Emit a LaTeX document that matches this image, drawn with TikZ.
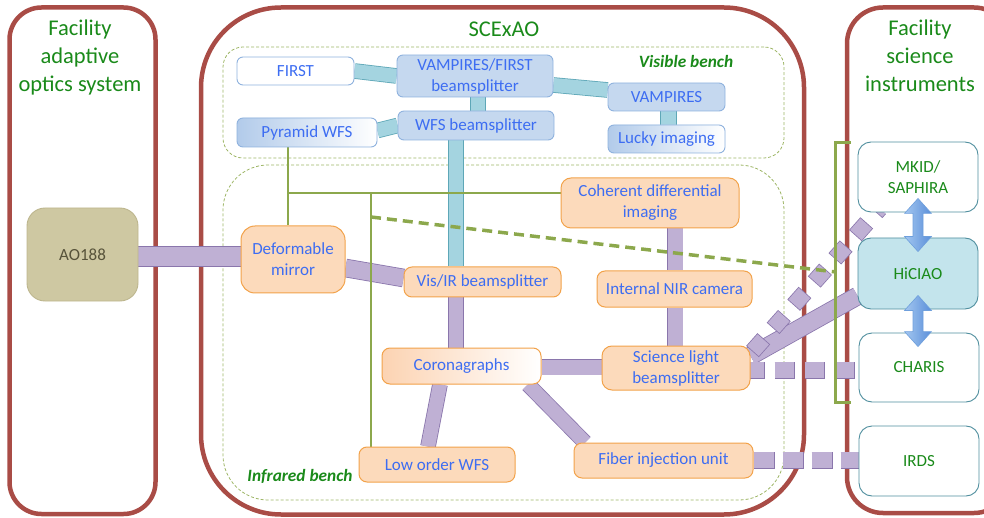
\documentclass[tikz,border=0pt]{standalone}
\usepackage{fontspec}
\setmainfont{Carlito}
\usetikzlibrary{calc}
\pgfdeclarelayer{frame}
\pgfdeclarelayer{bands}
\pgfdeclarelayer{wires}
\pgfdeclarelayer{top}
\pgfsetlayers{frame,bands,wires,main,top}
\definecolor{frameC}{HTML}{A94C46}
\definecolor{benchC}{HTML}{9DB565}
\definecolor{titleG}{HTML}{1A8A1A}
\definecolor{tblue}{HTML}{3D6DF2}
\definecolor{vfill}{HTML}{C5D8EF}
\definecolor{vgrad}{HTML}{B2CBEA}
\definecolor{vborder}{HTML}{8FB2DE}
\definecolor{ofill}{HTML}{FCDABB}
\definecolor{ograd}{HTML}{FCD3B2}
\definecolor{oborder}{HTML}{F2A24A}
\definecolor{pfill}{HTML}{BFB0D4}
\definecolor{pborder}{HTML}{8A76AC}
\definecolor{bfill}{HTML}{A4D4E0}
\definecolor{bborder}{HTML}{5EA7B7}
\definecolor{gline}{HTML}{8CA84C}
\definecolor{iborder}{HTML}{4F8E9E}
\definecolor{hfill}{HTML}{C3E4EC}
\definecolor{aofill}{HTML}{CEC8A2}
\definecolor{aoborder}{HTML}{BDB68E}
\definecolor{aotext}{HTML}{57533A}
\definecolor{arrowL}{HTML}{A3C6F0}
\definecolor{arrowR}{HTML}{5A8FD9}
\definecolor{arrowB}{HTML}{6E9FDC}
\tikzset{
  lab/.style={font=\fontsize{17}{21}\selectfont, align=center, inner sep=0pt},
  wh/.style 2 args={minimum width=#1pt, minimum height=#2pt},
  vbox/.style={lab, draw=vborder, fill=vfill, line width=0.9pt, rounded corners=6pt, text=tblue},
  obox/.style={lab, draw=oborder, fill=ofill, line width=1pt, rounded corners=8pt, text=tblue},
  ibox/.style={lab, draw=iborder, fill=white, line width=0.9pt, rounded corners=13pt, text=titleG},
  frame/.style={draw=frameC, line width=4.5pt, rounded corners=#1, inner sep=0pt},
  bench/.style={draw=benchC, line width=0.8pt, dash pattern=on 3pt off 2pt, rounded corners=#1, inner sep=0pt},
  title/.style={font=\fontsize{22.5}{28}\selectfont, text=titleG, align=center, inner sep=0pt},
  benchlab/.style={font=\fontsize{17.3}{20}\selectfont\bfseries\itshape, text=titleG, inner sep=0pt},
  pband/.style={draw=pborder, line width=0.8pt, double=pfill, double distance=#1},
  bband/.style={draw=bborder, line width=0.8pt, double=bfill, double distance=#1},
  gwire/.style={draw=gline, line width=2.5pt},
  fatarrowstyle/.style={left color=arrowL, right color=arrowR, draw=arrowB, line width=0.6pt},
}
\newcommand\fatarrow[2]{\path[fatarrowstyle] let \p1=(#1), \p2=(#2) in
  (\x1,\y1) -- (\x1+13.5pt,\y1-15pt) -- (\x1+5pt,\y1-15pt) -- (\x1+5pt,\y2+15pt)
  -- (\x1+13.5pt,\y2+15pt) -- (\x1,\y2) -- (\x1-13.5pt,\y2+15pt) -- (\x1-5pt,\y2+15pt)
  -- (\x1-5pt,\y1-15pt) -- (\x1-13.5pt,\y1-15pt) -- cycle;}
\begin{document}
\begin{tikzpicture}[x=1pt,y=-1pt]
\useasboundingbox (0,0) rectangle (984,518);
% ---------- frames ----------
\begin{pgfonlayer}{frame}
\node[frame=32pt, wh={146}{506.5}] (fao) at (82.5,260.75) {};
\node[frame=80pt, wh={603}{507}] (fsc) at (502.5,261) {};
\node[frame=36pt, wh={163}{505.5}] (fsi) at (928.5,260.25) {};
\node[bench=20pt, wh={561}{111}] (vbench) at (503.5,102.5) {};
\node[bench=45pt, wh={561}{335}] (ibench) at (503.5,332.5) {};
\end{pgfonlayer}
% ---------- titles ----------
\node[title, anchor=base] (t1) at (80,92) {Facility\\adaptive\\optics system};
\node[title, anchor=base] (t2) at (504,37) {SCExAO};
\node[title, anchor=base] (t3) at (920,92) {Facility\\science\\instruments};
\node[benchlab] (vbl) at (686,61) {Visible bench};
\node[benchlab] (ibl) at (300,476) {Infrared bench};
% ---------- visible bench ----------
\node[vbox, fill=white, wh={117}{28}] (first) at (295.5,71) {FIRST};
\node[vbox, wh={156}{42}] (vfbs) at (475,76) {VAMPIRES/FIRST\\beamsplitter};
\node[vbox, wh={117}{28}] (vamp) at (666.5,97) {VAMPIRES};
\node[vbox, left color=vgrad, right color=white, wh={117}{28}] (lucky) at (666.5,139) {Lucky imaging};
\node[vbox, left color=vgrad, right color=white, wh={140}{29}] (pyr) at (307,132.5) {Pyramid WFS};
\node[vbox, wh={156}{29}] (wfsbs) at (476,125.5) {WFS beamsplitter};
% ---------- infrared bench ----------
\node[obox, rounded corners=14pt, wh={104}{67}] (dm) at (293,259.5) {Deformable\\mirror};
\node[obox, wh={157}{30}] (visir) at (482.5,282) {Vis/IR beamsplitter};
\node[obox, rounded corners=10pt, wh={178}{50}] (cdi) at (650,203) {Coherent differential\\imaging};
\node[obox, wh={155}{36}] (nir) at (674.5,289) {Internal NIR camera};
\node[obox, rounded corners=10pt, wh={148}{44}] (slb) at (676,368) {Science light\\beamsplitter};
\node[obox, left color=ograd, right color=white, wh={159}{36}] (corona) at (461.5,366) {Coronagraphs};
\node[obox, wh={156}{35}] (lowfs) at (437,464.5) {Low order WFS};
\node[obox, wh={179}{35}] (fiu) at (663.5,460.5) {Fiber injection unit};
% ---------- AO188 ----------
\node[lab, draw=aoborder, fill=aofill, text=aotext, line width=0.9pt, rounded corners=18pt, wh={111}{93}] (ao) at (82.5,254.5) {AO188};
% ---------- instruments ----------
\node[ibox, wh={120}{70}] (mkid) at (918,177) {MKID/\\SAPHIRA};
\node[ibox, fill=hfill, wh={120}{71}] (hiciao) at (918,273.5) {HiCIAO};
\node[ibox, wh={120}{69}] (charis) at (919,367.5) {CHARIS};
\node[ibox, wh={120}{70}] (irds) at (919,461) {IRDS};
% ---------- bands ----------
\begin{pgfonlayer}{bands}
\draw[bband=14pt] (first.east) -- (vfbs.west);
\draw[bband=14pt] ($(vfbs.east)+(0,9)$) -- ($(vamp.west)+(0,-7)$);
\draw[bband=15pt] ($(vamp.south)+(2,0)$) -- ($(lucky.north)+(2,0)$);
\draw[bband=14pt] ($(vfbs.south)+(3,0)$) -- ($(wfsbs.north)+(2,0)$);
\draw[bband=14pt] ($(pyr.east)+(0,-2)$) -- (wfsbs.west);
\draw[bband=14pt] ($(wfsbs.south)+(-20,0)$) -- ($(visir.north)+(-26.5,0)$);
\draw[pband=19pt] ($(ao.east)+(0,2)$) -- ($(dm.west)+(0,-3)$);
\draw[pband=17pt] ($(dm.east)+(0,8.5)$) -- ($(visir.west)+(0,-4)$);
\draw[pband=14pt] ($(visir.south)+(-26.5,0)$) -- ($(corona.north)+(-5.5,0)$);
\draw[pband=15pt] ($(corona.east)+(0,1)$) -- ($(slb.west)+(0,-1)$);
\draw[pband=14pt] ($(corona.south)+(-21.5,0)$) -- ($(lowfs.north)+(-9,0)$);
\draw[pband=14pt] ($(corona.south)+(66.5,0)$) -- ($(fiu.north)+(-78.5,0)$);
\draw[pband=15pt] ($(cdi.south)+(25,0)$) -- ($(nir.north)+(0.5,0)$);
\draw[pband=15pt] ($(nir.south)+(0.5,0)$) -- ($(slb.north)+(-1,0)$);
\draw[pband=17pt] ($(slb.east)+(0,-12)$) -- ($(hiciao.west)+(0,22.5)$);
% dashed links
\coordinate (m0) at ($(slb.north east)+(2,6)$);
\coordinate (m1) at ($(mkid.south west)+(22,-4)$);
\draw[pborder, line width=17pt, dash pattern=on 17pt off 14pt] (m0) -- (m1);
\draw[pfill, line width=15.4pt, dash pattern=on 15.4pt off 15.6pt, dash phase=30.2pt] (m0) -- (m1);
\coordinate (c0) at ($(slb.east)+(-6,2)$);
\coordinate (c1) at ($(charis.west)+(0,2.5)$);
\draw[pborder, line width=17pt, dash pattern=on 20pt off 10pt] (c0) -- (c1);
\draw[pfill, line width=15.4pt, dash pattern=on 18.4pt off 11.6pt, dash phase=29.2pt] (c0) -- (c1);
\coordinate (i0) at ($(fiu.east)+(0,-0.5)$);
\coordinate (i1) at ($(irds.west)+(0,-1)$);
\draw[pborder, line width=17pt, dash pattern=on 21pt off 8pt] (i0) -- (i1);
\draw[pfill, line width=15.4pt, dash pattern=on 19.4pt off 9.6pt, dash phase=28.2pt] (i0) -- (i1);
\end{pgfonlayer}
% ---------- green wires ----------
\begin{pgfonlayer}{wires}
\coordinate (gj) at (288,193);
\coordinate (gk) at (371,193);
\coordinate (gd) at (371,217);
\coordinate (gc) at (836,272);
\draw[gwire] ($(pyr.south)+(-19,0)$) -- ($(dm.north)+(-5,0)$);
\draw[gwire] (gj) -- (gj -| cdi.west);
\draw[gwire] (gk) -- (gk |- lowfs.north);
\draw[gwire, line width=3.5pt, dash pattern=on 10pt off 6pt] (gd) -- (gc);
\coordinate (brt) at ($(mkid.north west)+(-7,1)$);
\coordinate (brb) at ($(charis.south west)+(-8,0)$);
\draw[gwire] (brt) -- ++(-15,0) |- (brb);
\end{pgfonlayer}
% ---------- fat arrows ----------
\begin{pgfonlayer}{top}
\coordinate (a1t) at ($(mkid.south)+(0,-14)$);
\coordinate (a1b) at ($(hiciao.north)+(0,14)$);
\coordinate (a2t) at ($(hiciao.south)+(0,-14)$);
\coordinate (a2b) at ($(charis.north)+(0,14)$);
\fatarrow{a1t}{a1b}
\fatarrow{a2t}{a2b}
\end{pgfonlayer}
\end{tikzpicture}
\end{document}
